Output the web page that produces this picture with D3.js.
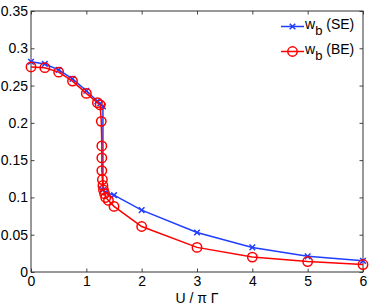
<!DOCTYPE html>
<html lang="en">
  <head>
    <meta charset="UTF-8" />
    <title>w_b vs U / pi Gamma</title>
    <style>
      body { margin: 0; background: #fff; }
      svg text { font-family: "Liberation Sans", Arial, sans-serif; fill: #000; }
    </style>
  </head>
  <body>
    <svg width="374" height="308"></svg>

    <script src="https://cdn.jsdelivr.net/npm/d3@7"></script>
    <script>
      // SE series (blue, x markers)
      const seX = [0, 0.25, 0.5, 0.75, 1, 1.2, 1.25, 1.3, 1.3, 1.35, 1.5, 2, 3, 4, 5, 6];
      const seY = [0.282, 0.279, 0.271, 0.259, 0.243, 0.229, 0.226, 0.222, 0.11, 0.107, 0.103, 0.083, 0.053, 0.033, 0.021, 0.015];

      // BE series (red, circles)
      const beX = [0, 0.25, 0.5, 0.75, 1, 1.2, 1.25, 1.27, 1.28, 1.28, 1.28, 1.29, 1.3, 1.31, 1.33, 1.35, 1.4, 1.5, 2, 3, 4, 5, 6];
      const beY = [0.275, 0.274, 0.268, 0.256, 0.2395, 0.227, 0.224, 0.202, 0.169, 0.153, 0.136, 0.124, 0.116, 0.11, 0.105, 0.1, 0.096, 0.088, 0.061, 0.033, 0.02, 0.014, 0.01];

      const xTicks = [0, 1, 2, 3, 4, 5, 6];
      const yTicks = [0, 0.05, 0.1, 0.15, 0.2, 0.25, 0.3, 0.35];

      const svg = d3.select("svg");
      const mLeft = 31, mRight = 363, mTop = 11, mBottom = 272;

      const x = d3.scaleLinear().domain([0, 6]).range([mLeft, mRight]);
      const y = d3.scaleLinear().domain([0, 0.35]).range([mBottom, mTop]);

      const blue = "#1f3dff", red = "#ff0000";
      const fs = "14px";

      // axes box with inward ticks
      const tl = 3.5;
      svg.append("g").attr("transform", `translate(0,${mBottom})`)
        .call(d3.axisBottom(x).tickValues(xTicks).tickSize(-tl).tickPadding(4.5).tickFormat(d3.format("d")))
        .call(g => g.select(".domain").remove());
      svg.append("g").attr("transform", `translate(0,${mTop})`)
        .call(d3.axisTop(x).tickValues(xTicks).tickSize(-tl).tickFormat(""))
        .call(g => g.select(".domain").remove());
      svg.append("g").attr("transform", `translate(${mLeft},0)`)
        .call(d3.axisLeft(y).tickValues(yTicks).tickSize(-tl).tickPadding(3).tickFormat(d => String(+d.toFixed(2))))
        .call(g => g.select(".domain").remove());
      svg.append("g").attr("transform", `translate(${mRight},0)`)
        .call(d3.axisRight(y).tickValues(yTicks).tickSize(-tl).tickFormat(""))
        .call(g => g.select(".domain").remove());

      svg.selectAll(".tick line").attr("stroke", "#444");
      svg.selectAll(".tick text").style("font-size", fs)
        .style("font-family", "'Liberation Sans', Arial, sans-serif");

      svg.append("rect")
        .attr("x", mLeft).attr("y", mTop)
        .attr("width", mRight - mLeft).attr("height", mBottom - mTop)
        .attr("fill", "none").attr("stroke", "#333").attr("stroke-width", 1);

      // x label
      svg.append("text")
        .attr("x", x(3)).attr("y", 303)
        .attr("text-anchor", "middle")
        .style("font-size", fs)
        .text("U / \u03c0 \u0393");

      const line = d3.line().x(d => x(d[0])).y(d => y(d[1]));
      const se = seX.map((v, i) => [v, seY[i]]);
      const be = beX.map((v, i) => [v, beY[i]]);

      function cross(g, cx, cy, s) {
        g.append("path")
          .attr("d", `M${cx - s},${cy - s}L${cx + s},${cy + s}M${cx - s},${cy + s}L${cx + s},${cy - s}`)
          .attr("stroke", blue).attr("stroke-width", 1.5).attr("fill", "none");
      }

      // SE
      svg.append("path").datum(se).attr("d", line)
        .attr("fill", "none").attr("stroke", blue).attr("stroke-width", 1.5);
      const gSE = svg.append("g");
      se.forEach(d => cross(gSE, x(d[0]), y(d[1]), 2.8));

      // BE
      svg.append("path").datum(be).attr("d", line)
        .attr("fill", "none").attr("stroke", red).attr("stroke-width", 1.5);
      svg.append("g").selectAll("circle").data(be).enter().append("circle")
        .attr("cx", d => x(d[0])).attr("cy", d => y(d[1])).attr("r", 4.7)
        .attr("fill", "none").attr("stroke", red).attr("stroke-width", 1.5);

      // legend
      const leg = svg.append("g");
      const entries = [
        { label: "(SE)", color: blue, cy: 26.5, mark: "x" },
        { label: "(BE)", color: red, cy: 51.5, mark: "o" },
      ];
      entries.forEach(e => {
        leg.append("line").attr("x1", 281).attr("x2", 304).attr("y1", e.cy).attr("y2", e.cy)
          .attr("stroke", e.color).attr("stroke-width", 1.5);
        if (e.mark === "x") cross(leg, 292.5, e.cy, 2.8);
        else leg.append("circle").attr("cx", 292.5).attr("cy", e.cy).attr("r", 4.7)
          .attr("fill", "none").attr("stroke", e.color).attr("stroke-width", 1.5);
        const t = leg.append("text").attr("x", 305).attr("y", e.cy + 2).style("font-size", fs);
        t.append("tspan").text("w");
        t.append("tspan").attr("dy", 6).style("font-size", "13px").text("b");
        t.append("tspan").attr("dy", -6).text(" " + e.label);
      });
    </script>
  </body>
</html>
